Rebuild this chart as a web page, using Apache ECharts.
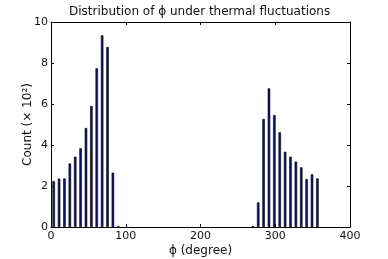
<!DOCTYPE html>
<html><head><meta charset="utf-8">
<script src="https://cdn.jsdelivr.net/npm/echarts@6/dist/echarts.min.js"></script>
<style>html,body{margin:0;padding:0;background:#fff}#c{width:388px;height:259px}</style>
</head><body><div id="c"></div>
<script>
// bin centres (degrees) and counts (x 10^2)
const binCenters = [3.6,10.8,18,25.2,32.4,39.6,46.8,54,61.2,68.4,75.6,82.8,90,
                    270,277.2,284.4,291.6,298.8,306,313.2,320.4,327.6,334.8,342,349.2,356.4];
const counts =     [2.24,2.36,2.37,3.1,3.43,3.84,4.83,5.9,7.74,9.35,8.78,2.65,0.05,
                    0.05,1.2,5.27,6.76,5.46,4.62,3.67,3.43,3.19,2.91,2.34,2.57,2.37];
const xTicks = [0,100,200,300,400];
const yTicks = [0,2,4,6,8,10];
const titleText = 'Distribution of \u03d5 under thermal fluctuations';
const xName = '\u03d5 (degree)';
const yName = 'Count (\u00d7 10\u00b2)';

const font = 'DejaVu Sans';
const chart = echarts.init(document.getElementById('c'));
const axisCommon = {
  axisLine:{show:true,onZero:false,lineStyle:{color:'#000',width:1}},
  axisTick:{show:true,inside:true,length:3,lineStyle:{color:'#000'}},
  splitLine:{show:false}
};
chart.setOption({
  animation:false,
  backgroundColor:'#fff',
  title:{text:titleText,left:64,top:1,
    textStyle:{fontFamily:font,fontSize:12,fontWeight:'normal',color:'#111'}},
  grid:{left:51,right:38,top:22,bottom:32,containLabel:false,outerBoundsMode:'none'},
  xAxis:[
    Object.assign({type:'value',min:xTicks[0],max:xTicks[xTicks.length-1],interval:100,
      name:xName,nameLocation:'middle',nameGap:18,nameMoveOverlap:false,
      nameTextStyle:{fontFamily:font,fontSize:12,color:'#111'},
      axisLabel:{fontFamily:font,fontSize:11,color:'#111',margin:4}},axisCommon),
    Object.assign({type:'value',position:'top',min:0,max:400,interval:100,
      axisLabel:{show:false}},axisCommon)
  ],
  yAxis:[
    Object.assign({type:'value',min:yTicks[0],max:yTicks[yTicks.length-1],interval:2,
      name:yName,nameLocation:'middle',nameGap:17,nameMoveOverlap:false,
      nameTextStyle:{fontFamily:font,fontSize:12,color:'#111'},
      axisLabel:{fontFamily:font,fontSize:11,color:'#111',margin:3}},axisCommon),
    Object.assign({type:'value',position:'right',min:0,max:10,interval:2,
      axisLabel:{show:false}},axisCommon)
  ],
  series:[{
    type:'bar',
    data:binCenters.map((x,i)=>[x,counts[i]]),
    barWidth:2.5,
    itemStyle:{color:'#10107a',borderColor:'#000',borderWidth:0.6}
  }]
});
</script></body></html>
